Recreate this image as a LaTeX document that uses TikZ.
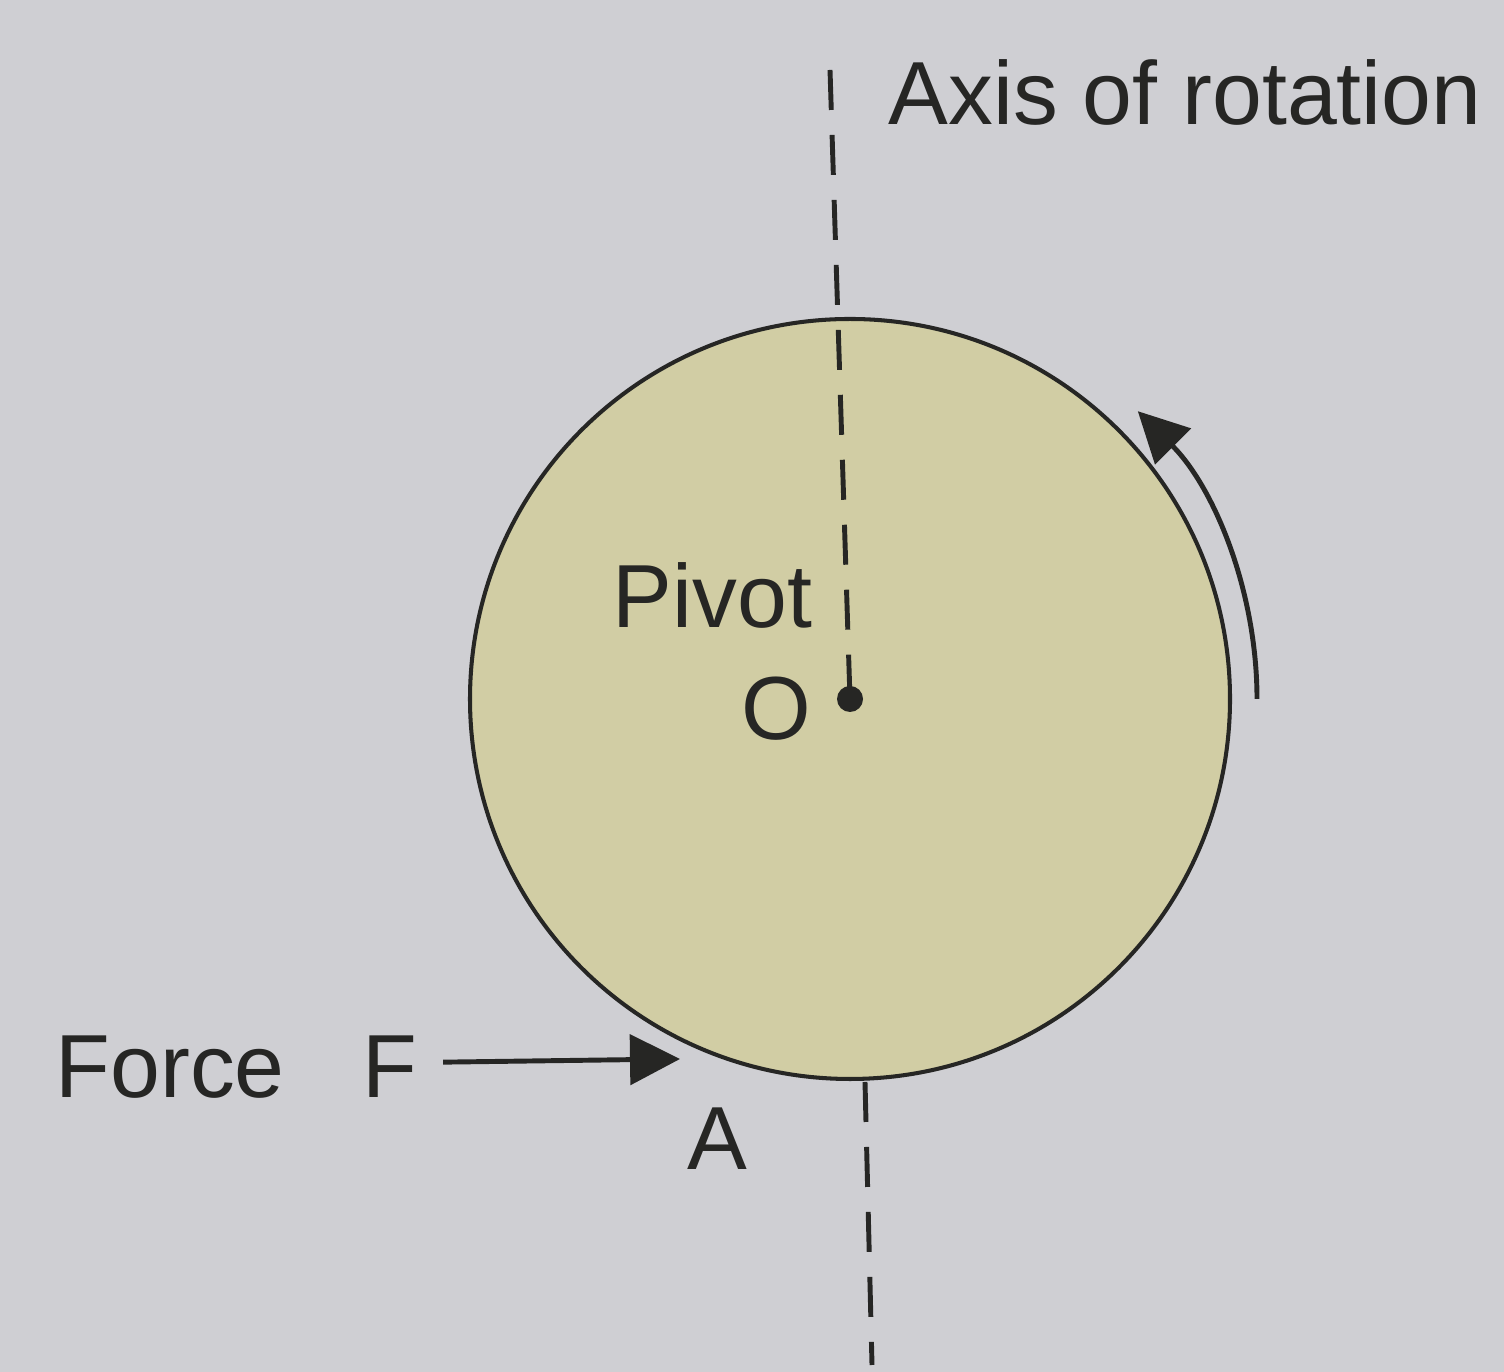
\documentclass[tikz,border=0pt]{standalone}
\usepackage{fontspec}
\setmainfont{Liberation Sans}
\usepackage{tikz}
\usetikzlibrary{calc,arrows.meta}
\definecolor{paperGray}{HTML}{CFCFD3}
\definecolor{diskFill}{HTML}{D1CDA4}
\definecolor{inkDark}{HTML}{262624}

\begin{document}
\begin{tikzpicture}[
  lbl/.style={text=inkDark, inner sep=0pt, font=\fontsize{25.5pt}{30pt}\selectfont},
  axisline/.style={inkDark, line width=1.4pt, dash pattern=on 0.4cm off 0.25cm},
  rim/.style={draw=inkDark, line width=1.15pt, fill=diskFill},
  arr/.style={-{Triangle[length=5mm,width=5mm]}, inkDark, line width=1.4pt},
  >=Latex
]
% page and margins
\fill[paperGray] (0,0) rectangle (15.04,13.72);
\useasboundingbox (0,0) rectangle (15.04,13.72);

% disk and pivot
\coordinate (O) at (8.50,6.73);
\draw[rim] (O) circle[radius=3.80];
\fill[inkDark] (O) circle[radius=0.13];

% axis of rotation
\coordinate (axtop) at (8.30,13.02);
\coordinate (axbot) at (8.65,2.90);
\coordinate (axend) at (8.72,0.07);
\draw[axisline] (axtop) -- (O);
\draw[axisline] (axbot) -- (axend);
\node[lbl, anchor=base west] (axis) at (8.88,12.47) {Axis of rotation};

% labels
\node[lbl, anchor=base west] (pivot) at (6.12,7.44) {Pivot};
\node[lbl, anchor=base] (o) at (7.76,6.32) {O};
\node[lbl, anchor=base west] (force) at (0.55,2.74) {Force};
\node[lbl, anchor=base west] (f) at (3.62,2.74) {F};
\node[lbl, anchor=base] (a) at (7.17,2.02) {A};

% force at A
\coordinate (Atip) at (6.80,3.13);
\draw[arr] ($(f.east)+(0.25,0.05)$) -- (Atip);

% sense of rotation
\draw[arr] ($(O)+(0:4.07)$) arc[start angle=0, end angle=45, radius=4.07];
\end{tikzpicture}
\end{document}
